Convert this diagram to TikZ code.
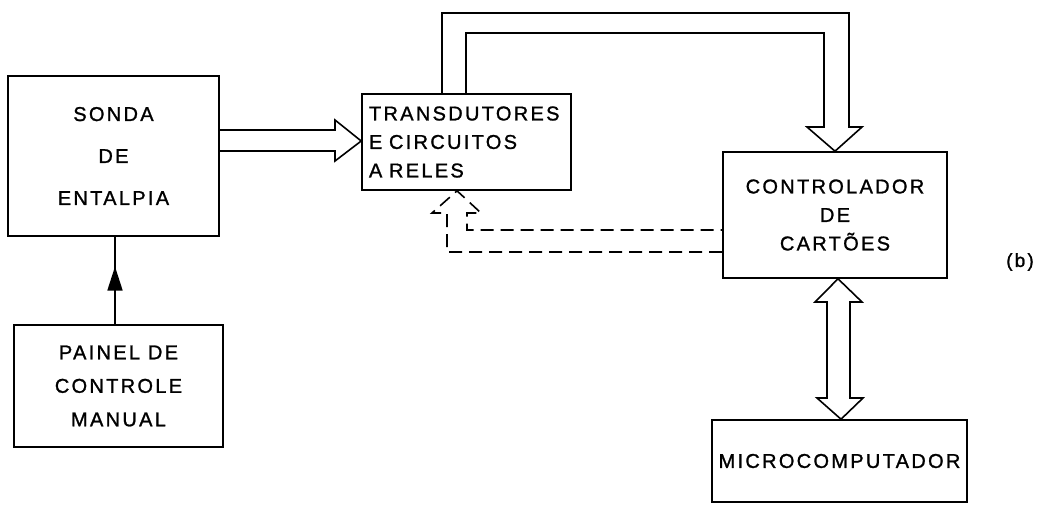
\documentclass[tikz,border=0pt]{standalone}
\usepackage{fontspec}
\setmainfont{Liberation Sans}
\newfontfamily\lett[LetterSpace=11.5,FakeBold=1.2]{Liberation Sans}
\usetikzlibrary{arrows.meta,decorations.markings}
\begin{document}
\begin{tikzpicture}[x=1pt,y=-1pt,
  box/.style={draw,line width=1.6pt,rectangle,inner sep=0pt,
    font=\lett\fontsize{20}{#1}\selectfont,align=center},
  box/.default=28.5,
  conn/.style={line width=1.6pt,line join=miter},
  dconn/.style={conn,dash pattern=on 13pt off 7pt}]
\useasboundingbox (0,0) rectangle (1059,504);

\node[box=42,minimum width=211pt,minimum height=160pt] (sonda) at (113.5,156)
  {SONDA\\DE\\ENTALPIA};
\node[box=33.5,minimum width=209pt,minimum height=122pt] (painel) at (118.5,386)
  {PAINEL DE\\CONTROLE\\MANUAL};
\node[box=28.5,minimum height=96pt,inner xsep=7pt,text width=195pt,align=left] (transd) at (466.5,142)
  {TRANSDUTORES\\E CIRCUITOS\\A RELES};
\node[box=28.5,minimum width=224pt,minimum height=126pt] (ctrl) at (835,215)
  {CONTROLADOR\\DE\\CARTÕES};
\node[box,minimum width=255pt,minimum height=82pt] (micro) at (839.5,461)
  {MICROCOMPUTADOR};
\node[font=\lett\fontsize{19}{20}\selectfont] (lab) at (1020,262) {(b)};

% painel -> sonda
\draw[conn,postaction={decorate},decoration={markings,
  mark=at position 0.66 with {\arrow{Triangle[length=24pt,width=15pt]}}}]
  (painel.north -| 115,0) -- (sonda.south -| 115,0);

% sonda -> transdutores (hollow)
\draw[conn] (sonda.east |- 0,130) -- (335,130) -- (335,120) -- (transd.west |- 0,141)
  -- (335,161) -- (335,151) -- (sonda.east |- 0,151);

% transdutores -> controlador (hollow, over the top)
\draw[conn] (transd.north -| 442,0) -- (442,13) -- (849,13) -- (849,127) -- (862,127)
  -- (ctrl.north) -- (807,127) -- (824,127) -- (824,33) -- (466,33) -- (transd.north -| 466,0);

% controlador <-> micro (double hollow)
\draw[conn] (ctrl.south -| 838,0) -- (862,302) -- (850,302) -- (850,398) -- (863,398)
  -- (micro.north -| 841,0) -- (817,398) -- (827,398) -- (827,302) -- (815,302) -- cycle;

% controlador -> transdutores (dashed hollow)
\draw[dconn] (ctrl.west |- 0,252) -- (447,252) -- (447,213) -- (432,213)
  -- (transd.south -| 457,0) -- (481,213) -- (467,213) -- (467,230) -- (ctrl.west |- 0,230);
\end{tikzpicture}
\end{document}
